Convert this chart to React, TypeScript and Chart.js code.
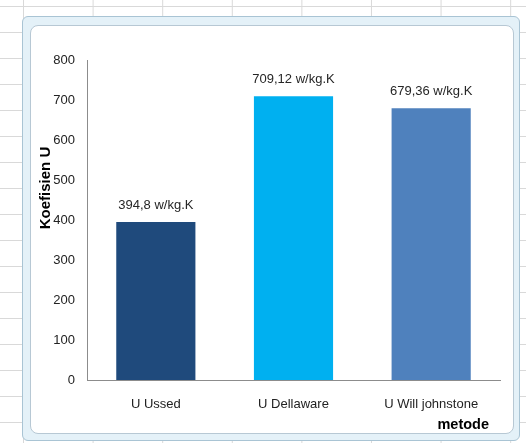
import React, { useEffect, useRef } from "react";
import { Chart, registerables } from "chart.js";

Chart.register(...registerables);

const categories = ["U Ussed", "U Dellaware", "U Will johnstone"];
const values = [394.8, 709.12, 679.36];
const valueLabels = ["394,8 w/kg.K", "709,12 w/kg.K", "679,36 w/kg.K"];
const barColors = ["#1F4A7C", "#00B0F0", "#4F81BD"];
const yTitle = "Koefisien U";
const xTitle = "metode";

const FONT = '"Liberation Sans", Arial, sans-serif';

const labelsPlugin = {
  id: "valueLabels",
  afterDatasetsDraw(chart: any) {
    const ctx = chart.ctx;
    const meta = chart.getDatasetMeta(0);
    ctx.save();
    ctx.font = `13px ${FONT}`;
    ctx.fillStyle = "#262626";
    ctx.textAlign = "center";
    ctx.textBaseline = "middle";
    meta.data.forEach((bar: any, i: number) => {
      ctx.fillText(valueLabels[i], bar.x, bar.y - 17);
    });
    // axis titles
    const area = chart.chartArea;
    ctx.font = `bold 15px ${FONT}`;
    ctx.fillStyle = "#000";
    ctx.translate(46, area.top + (area.bottom - area.top) * 0.4);
    ctx.rotate(-Math.PI / 2);
    ctx.fillText(yTitle, 0, 0);
    ctx.restore();
    ctx.save();
    ctx.font = `bold 14.5px ${FONT}`;
    ctx.fillStyle = "#000";
    ctx.textAlign = "right";
    ctx.textBaseline = "middle";
    ctx.fillText(xTitle, area.right - 11, area.bottom + 45);
    ctx.restore();
  },
};

export default function App() {
  const ref = useRef<HTMLCanvasElement>(null);
  useEffect(() => {
    if (!ref.current) return;
    const chart = new Chart(ref.current, {
      type: "bar",
      data: {
        labels: categories,
        datasets: [
          {
            data: values,
            backgroundColor: barColors,
            barPercentage: 0.575,
            categoryPercentage: 1,
          },
        ],
      },
      options: {
        responsive: false,
        animation: false,
        devicePixelRatio: 1,
        layout: { padding: { left: 30, right: 26, top: 60, bottom: 8 } },
        plugins: {
          legend: { display: false },
          tooltip: { enabled: false },
        },
        scales: {
          x: {
            grid: { display: false },
            border: { display: true, color: "#8c8c8c", width: 1 },
            ticks: { font: { family: FONT, size: 13 }, color: "#222", padding: 9 },
            afterFit: (s: any) => {
              s.height = 55;
            },
          },
          y: {
            min: 0,
            max: 800,
            grid: { display: false },
            border: { display: true, color: "#8c8c8c", width: 1 },
            ticks: { stepSize: 100, font: { family: FONT, size: 13 }, color: "#222", padding: 4 },
            afterFit: (s: any) => {
              s.width = 57;
            },
          },
        },
      },
      plugins: [labelsPlugin],
    });
    return () => chart.destroy();
  }, []);

  return (
    <div
      style={{
        position: "absolute",
        left: 0,
        top: 0,
        width: 526,
        height: 443,
        overflow: "hidden",
        backgroundColor: "#fff",
        backgroundImage:
          "linear-gradient(to right, #d9d9d9 1px, transparent 1px), linear-gradient(to bottom, #d9d9d9 1px, transparent 1px)",
        backgroundSize: "69.6px 26px",
        backgroundPosition: "23px 6px",
      }}
    >
      <div
        style={{
          position: "absolute",
          left: 22,
          top: 16,
          width: 496,
          height: 423,
          border: "1px solid #a9c4d4",
          background: "#e4f1f8",
          borderRadius: 6,
        }}
      />
      <div
        style={{
          position: "absolute",
          left: 30,
          top: 25,
          width: 482,
          height: 407,
          border: "1px solid #b7c8d4",
          background: "#fff",
          borderRadius: 8,
        }}
      />
      <canvas
        ref={ref}
        width={526}
        height={443}
        style={{ position: "absolute", left: 0, top: 0, width: 526, height: 443 }}
      />
    </div>
  );
}
